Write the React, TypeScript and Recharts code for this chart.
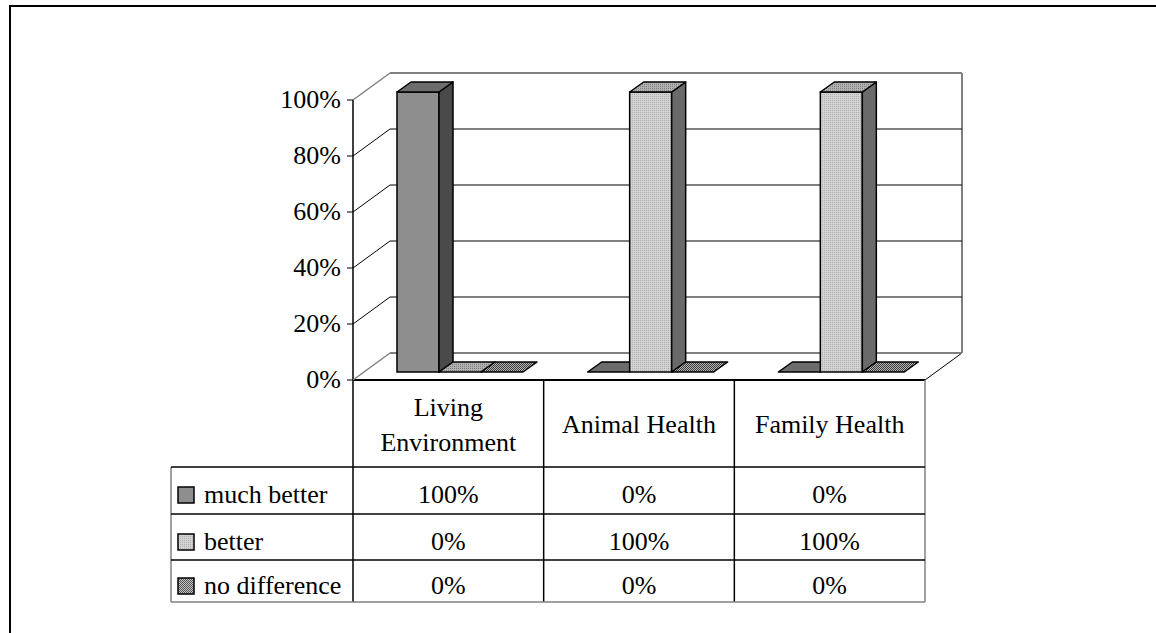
import { BarChart, Bar, XAxis, YAxis, CartesianGrid } from "recharts";

const categories = ["Living Environment", "Animal Health", "Family Health"];
const seriesNames = ["much better", "better", "no difference"];
const muchBetter = [100, 0, 0];
const better = [0, 100, 100];
const noDifference = [0, 0, 0];
const yTicks = [0, 20, 40, 60, 80, 100];

const data = categories.map((name, i) => ({
  name,
  muchBetter: muchBetter[i],
  better: better[i],
  noDifference: noDifference[i],
}));
const seriesValues = [muchBetter, better, noDifference];

// layout (page pixels)
const W = 1156;
const H = 633;
const PLOT_LEFT = 364;
const PLOT_RIGHT = 936;
const PLOT_TOP = 92;
const PLOT_BOTTOM = 372;
const Y_AXIS_W = 60;
const X_AXIS_H = 30;
const BAND = (PLOT_RIGHT - PLOT_LEFT) / categories.length;
// the bars stand in a middle plane; front and back planes are offsets of it
const FRONT = { dx: -11, dy: 8 };
const BACK = { dx: 26, dy: -19 };
const DEPTH = { dx: 14, dy: 10 };

const FONT = '"Liberation Serif", "Times New Roman", serif';
const FS = 26;
const textStyle = { fontFamily: FONT, fontSize: FS };

const AXIS_X = PLOT_LEFT + FRONT.dx;
const TABLE_RIGHT = PLOT_RIGHT + FRONT.dx;
const TABLE_LEFT = 171;
const HEADER_TOP = PLOT_BOTTOM + FRONT.dy;
const ROW_LINES = [467, 514, 560, 602];
const ROW_BASE = [503, 550, 594];

const GRAY = "#808080";

const colors = [
  { front: "#8e8e8e", top: "#6c6c6c", side: "#4a4a4a" },
  { front: "url(#betterFront)", top: "url(#betterTop)", side: "#6a6a6a" },
  { front: "url(#noneFront)", top: "url(#noneTop)", side: "#4e4e4e" },
];

let ctx: CanvasRenderingContext2D | null = null;
function measure(s: string) {
  if (!ctx) ctx = document.createElement("canvas").getContext("2d");
  if (!ctx) return s.length * FS * 0.47;
  ctx.font = `${FS}px ${FONT}`;
  return ctx.measureText(s).width;
}

function wrap(label: string, maxW: number) {
  const lines: string[] = [];
  let cur = "";
  for (const word of label.split(" ")) {
    const next = cur ? `${cur} ${word}` : word;
    if (cur && measure(next) > maxW) {
      lines.push(cur);
      cur = word;
    } else cur = next;
  }
  if (cur) lines.push(cur);
  return lines;
}

function Bar3D(props: any) {
  const { x, y, width: w, height: h, front, top, side } = props;
  if (x == null || y == null) return null;
  const topFace = `${x},${y} ${x + DEPTH.dx},${y - DEPTH.dy} ${x + w + DEPTH.dx},${y - DEPTH.dy} ${x + w},${y}`;
  if (!h || h < 0.5) {
    return <polygon points={topFace} fill={top} stroke="#000" strokeWidth={1.5} strokeLinejoin="round" />;
  }
  const sideFace = `${x + w},${y} ${x + w + DEPTH.dx},${y - DEPTH.dy} ${x + w + DEPTH.dx},${y + h - DEPTH.dy} ${x + w},${y + h}`;
  return (
    <g>
      <rect x={x} y={y} width={w} height={h} fill={front} stroke="#000" strokeWidth={1.5} />
      <polygon points={sideFace} fill={side} stroke="#000" strokeWidth={1.5} strokeLinejoin="round" />
      <polygon points={topFace} fill={top} stroke="#000" strokeWidth={1.5} strokeLinejoin="round" />
    </g>
  );
}

function GridLine(props: any) {
  const { x1, x2, y1 } = props;
  const edge = Math.abs(y1 - PLOT_TOP) < 1 || Math.abs(y1 - PLOT_BOTTOM) < 1;
  const stroke = edge ? GRAY : "#000";
  return (
    <g key={props.key ?? `g-${y1}`}>
      <line x1={x1 + FRONT.dx} y1={y1 + FRONT.dy} x2={x1 + BACK.dx} y2={y1 + BACK.dy} stroke={stroke} strokeWidth={edge ? 1.5 : 1} />
      <line x1={x1 + BACK.dx} y1={y1 + BACK.dy} x2={x2 + BACK.dx} y2={y1 + BACK.dy} stroke={stroke} strokeWidth={edge ? 2 : 1} />
    </g>
  );
}

function YTick(props: any) {
  const { y, payload } = props;
  const fy = y + FRONT.dy;
  return (
    <g>
      <line x1={AXIS_X - 6} y1={fy} x2={AXIS_X} y2={fy} stroke="#000" strokeWidth={1} />
      <text x={AXIS_X - 12} y={fy + 8} textAnchor="end" style={textStyle} fill="#000">
        {payload.value}%
      </text>
    </g>
  );
}

function TableTick(props: any) {
  const { x, payload } = props;
  const i = props.index ?? categories.indexOf(payload.value);
  const cx = x + FRONT.dx;
  const lines = wrap(String(payload.value), BAND - 14);
  const lh = 35;
  const first = 433 - ((lines.length - 1) * lh) / 2;
  return (
    <g>
      <text textAnchor="middle" style={textStyle} fill="#000">
        {lines.map((ln, k) => (
          <tspan key={k} x={cx} y={first + k * lh}>
            {ln}
          </tspan>
        ))}
      </text>
      {seriesValues.map((vals, r) => (
        <text key={r} x={cx} y={ROW_BASE[r]} textAnchor="middle" style={textStyle} fill="#000">
          {vals[i]}%
        </text>
      ))}
    </g>
  );
}

function Backdrop() {
  const cols = categories.map((_, i) => AXIS_X + BAND * (i + 1));
  return (
    <svg width={W} height={H} style={{ position: "absolute", left: 0, top: 0 }}>
      <defs>
        <pattern id="betterFront" width={2} height={2} patternUnits="userSpaceOnUse">
          <rect width={2} height={2} fill="#d2d2d2" />
          <rect width={1} height={1} fill="#b0b0b0" />
        </pattern>
        <pattern id="betterTop" width={2} height={2} patternUnits="userSpaceOnUse">
          <rect width={2} height={2} fill="#b0b0b0" />
          <rect width={1} height={1} fill="#808080" />
        </pattern>
        <pattern id="noneFront" width={2} height={2} patternUnits="userSpaceOnUse">
          <rect width={2} height={2} fill="#c8c8c8" />
          <rect width={1} height={1} fill="#505050" />
          <rect x={1} y={1} width={1} height={1} fill="#505050" />
        </pattern>
        <pattern id="noneTop" width={2} height={2} patternUnits="userSpaceOnUse">
          <rect width={2} height={2} fill="#b4b4b4" />
          <rect width={1} height={1} fill="#3c3c3c" />
          <rect x={1} y={1} width={1} height={1} fill="#3c3c3c" />
        </pattern>
      </defs>
      {/* outer frame */}
      <line x1={10} y1={5} x2={10} y2={H} stroke="#000" strokeWidth={2} />
      <line x1={9} y1={6} x2={W} y2={6} stroke="#000" strokeWidth={2} />
      {/* back wall right edge */}
      <line x1={PLOT_RIGHT + BACK.dx} y1={PLOT_TOP + BACK.dy} x2={PLOT_RIGHT + BACK.dx} y2={PLOT_BOTTOM + BACK.dy} stroke={GRAY} strokeWidth={2} />
      {/* floor */}
      <line x1={TABLE_RIGHT} y1={HEADER_TOP} x2={PLOT_RIGHT + BACK.dx} y2={PLOT_BOTTOM + BACK.dy} stroke="#000" strokeWidth={1} />
      <line x1={AXIS_X} y1={HEADER_TOP} x2={TABLE_RIGHT} y2={HEADER_TOP} stroke="#000" strokeWidth={2} />
      {/* value axis + table */}
      <line x1={AXIS_X} y1={PLOT_TOP + FRONT.dy} x2={AXIS_X} y2={ROW_LINES[3]} stroke="#000" strokeWidth={1.5} />
      {cols.map((cx, i) => (
        <line key={i} x1={cx} y1={HEADER_TOP} x2={cx} y2={ROW_LINES[3]} stroke={i === cols.length - 1 ? GRAY : "#000"} strokeWidth={1.5} />
      ))}
      <line x1={TABLE_LEFT} y1={ROW_LINES[0]} x2={TABLE_LEFT} y2={ROW_LINES[3]} stroke={GRAY} strokeWidth={1.5} />
      {ROW_LINES.map((ry, i) => (
        <line key={ry} x1={TABLE_LEFT} y1={ry} x2={TABLE_RIGHT} y2={ry} stroke={i === ROW_LINES.length - 1 ? GRAY : "#000"} strokeWidth={1.5} />
      ))}
      {seriesNames.map((name, r) => (
        <g key={name}>
          <rect x={178} y={ROW_BASE[r] - 16} width={16} height={16} fill={colors[r].front} stroke="#000" strokeWidth={1.5} />
          <text x={204} y={ROW_BASE[r]} style={textStyle} fill="#000">
            {name}
          </text>
        </g>
      ))}
    </svg>
  );
}

export default function App() {
  return (
    <div style={{ position: "absolute", left: 0, top: 0, width: W, height: H, background: "#fff" }}>
      <Backdrop />
      <div style={{ position: "absolute", left: 0, top: 0 }}>
        <BarChart
          width={W}
          height={H}
          data={data}
          margin={{ top: PLOT_TOP, right: W - PLOT_RIGHT, bottom: H - PLOT_BOTTOM - X_AXIS_H, left: PLOT_LEFT - Y_AXIS_W }}
          barCategoryGap={33}
          barGap={0}
        >
          <CartesianGrid vertical={false} horizontal={(p: any) => <GridLine {...p} />} />
          <XAxis dataKey="name" height={X_AXIS_H} axisLine={false} tickLine={false} interval={0} tick={<TableTick />} />
          <YAxis width={Y_AXIS_W} domain={[0, 100]} ticks={yTicks} axisLine={false} tickLine={false} tick={<YTick />} />
          {(["muchBetter", "better", "noDifference"] as const).map((key, r) => (
            <Bar
              key={key}
              dataKey={key}
              name={seriesNames[r]}
              fill={colors[r].front}
              isAnimationActive={false}
              shape={(p: any) => <Bar3D {...p} {...colors[r]} />}
            />
          ))}
        </BarChart>
      </div>
    </div>
  );
}
